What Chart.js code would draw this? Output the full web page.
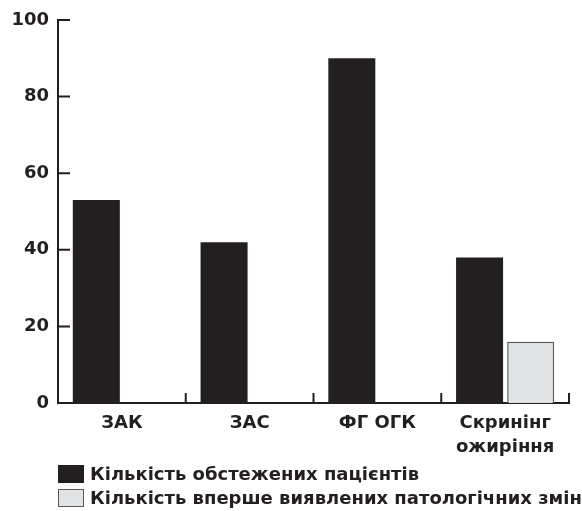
<!DOCTYPE html>
<html>
<head>
<meta charset="utf-8">
<script src="https://cdn.jsdelivr.net/npm/chart.js@4/dist/chart.umd.min.js"></script>
<style>
  html, body { margin: 0; padding: 0; background: #fff; overflow: hidden; }
  #wrap { position: relative; width: 582px; height: 511px; overflow: hidden; }
  #legend { position: absolute; left: 58px; top: 465px; white-space: nowrap;
            font: bold 18px "DejaVu Sans", sans-serif; color: #231f20; }
  #legend .row { height: 24px; line-height: 18px; }
  #legend .box { display: inline-block; width: 26px; height: 18px; vertical-align: top;
                 box-sizing: border-box; margin-right: 6px; }
</style>
</head>
<body>
<div id="wrap">
  <canvas id="canvas" width="582" height="511"></canvas>
  <div id="legend"></div>
</div>
<script>
// categories and series
var categories = ['ЗАК', 'ЗАС', 'ФГ ОГК', ['Скринінг', 'ожиріння']];
var examined = [53, 42, 90, 38];
var firstFound = [null, null, null, 16];
var seriesNames = ['Кількість обстежених пацієнтів', 'Кількість вперше виявлених патологічних змін'];
var yTickValues = [0, 20, 40, 60, 80, 100];

var ink = '#231f20';
var font = '"DejaVu Sans", sans-serif';

// tick marks pointing into the plot, like the original
var innerTicks = {
    id: 'innerTicks',
    afterDraw: function(chart) {
        var ctx = chart.ctx;
        var x = chart.scales.x, y = chart.scales.y;
        ctx.save();
        ctx.strokeStyle = ink;
        ctx.lineWidth = 2;
        ctx.beginPath();
        y.ticks.forEach(function(t) {
            if (t.value === 0) return;
            var py = y.getPixelForValue(t.value);
            ctx.moveTo(y.right, py);
            ctx.lineTo(y.right + 12, py);
        });
        var step = x.getPixelForValue(1) - x.getPixelForValue(0);
        for (var i = 0; i < categories.length; i++) {
            var px = x.getPixelForValue(i) + step / 2;
            ctx.moveTo(px, x.top);
            ctx.lineTo(px, x.top - 10);
        }
        ctx.stroke();
        ctx.restore();
    }
};

var ctx = document.getElementById('canvas').getContext('2d');
var chart = new Chart(ctx, {
    type: 'bar',
    data: {
        labels: categories,
        datasets: [{
            label: seriesNames[0],
            data: examined,
            backgroundColor: ink,
            borderWidth: 0
        }, {
            label: seriesNames[1],
            data: firstFound,
            backgroundColor: '#e2e3e5',
            borderColor: '#58595b',
            borderWidth: 1.5
        }]
    },
    options: {
        responsive: false,
        animation: false,
        layout: { padding: { left: 0, right: 13, top: 20, bottom: 0 } },
        categoryPercentage: 0.8,
        barPercentage: 0.92,
        plugins: {
            legend: { display: false },
            tooltip: { enabled: false }
        },
        scales: {
            x: {
                grid: { display: false, drawTicks: false },
                border: { display: true, color: ink, width: 2 },
                ticks: {
                    color: ink,
                    padding: 9,
                    font: { family: font, size: 18, weight: 'bold', lineHeight: 1.3 }
                },
                afterFit: function(scale) { scale.height = 108; }
            },
            y: {
                min: 0,
                max: 100,
                grid: { display: false, drawTicks: false },
                border: { display: true, color: ink, width: 2 },
                afterBuildTicks: function(scale) {
                    scale.ticks = yTickValues.map(function(v) { return { value: v }; });
                },
                ticks: {
                    color: ink,
                    padding: 9,
                    font: { family: font, size: 18, weight: 'bold' }
                },
                afterFit: function(scale) { scale.width = 58; }
            }
        }
    },
    plugins: [innerTicks]
});

// legend below the plot, left aligned in two rows
var legend = document.getElementById('legend');
chart.data.datasets.forEach(function(ds) {
    var row = document.createElement('div');
    row.className = 'row';
    var box = document.createElement('span');
    box.className = 'box';
    box.style.background = ds.backgroundColor;
    box.style.border = ds.borderWidth ? '1.5px solid ' + ds.borderColor : 'none';
    row.appendChild(box);
    row.appendChild(document.createTextNode(ds.label));
    legend.appendChild(row);
});
</script>
</body>
</html>
